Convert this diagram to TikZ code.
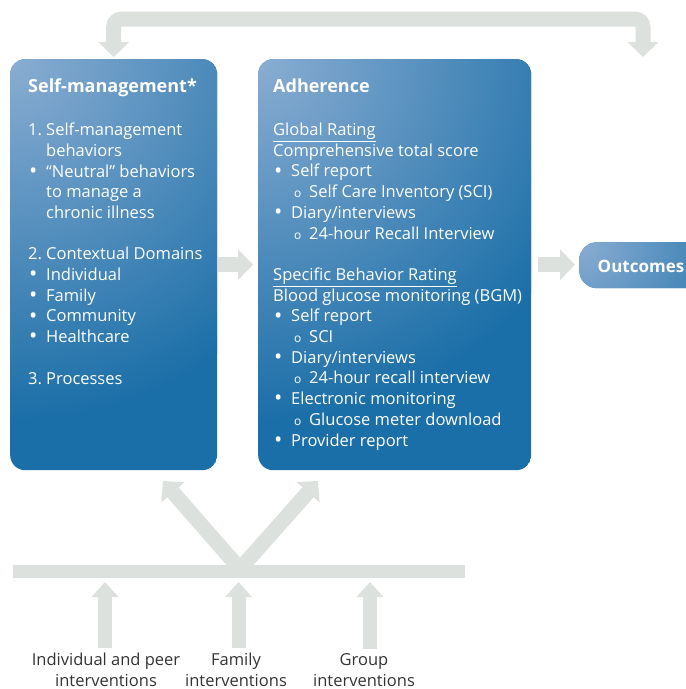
\documentclass[tikz,border=0pt]{standalone}
\usepackage{fontspec}
\setmainfont{Open Sans}
\usetikzlibrary{arrows.meta, positioning}
\definecolor{boxdark}{HTML}{1B6FA8}
\definecolor{boxlight}{HTML}{8AADD2}
\definecolor{flowgray}{HTML}{DCE1DE}
\definecolor{labelgray}{HTML}{333333}
\newcommand{\bul}{\makebox[18pt][l]{\hspace{1pt}\raisebox{-1.2pt}{\fontsize{22}{0}\selectfont\textbullet}}}
\newcommand{\numitem}[1]{\makebox[18pt][l]{#1}}
\newcommand{\subbul}{\hspace*{18pt}\makebox[18pt][l]{\hspace{3pt}{\fontsize{12}{10}\selectfont o}}}
\newcommand{\boxtitle}[1]{{\fontsize{18}{20}\selectfont\bfseries #1}}

\begin{document}
\begin{tikzpicture}[x=1pt, y=-1pt,
  blockbox/.style={rounded corners=15pt, inner sep=0pt, anchor=north west,
    path picture={
      \fill[boxdark] (path picture bounding box.south west) rectangle (path picture bounding box.north east);
      \shade[inner color=boxlight, outer color=boxdark] (path picture bounding box.north west) circle (#1);
    }},
  blockbox/.default=360pt,
  boxtext/.style={text=white, align=left, inner sep=0pt, anchor=north west,
    font=\fontsize{16.5}{20.7}\selectfont},
  flow/.style={draw=flowgray, line width=15pt, -{Triangle[width=30pt, length=15pt]}},
  flowup/.style={draw=flowgray, line width=14pt, -{Triangle[width=26pt, length=15pt]}},
  bar/.style={draw=flowgray, line width=13pt},
  intervention/.style={text=labelgray, align=center, inner sep=0pt,
    font=\fontsize{16.5}{20.5}\selectfont}
]
\useasboundingbox (0,0) rectangle (686,689);

% boxes
\node[blockbox, minimum width=207pt, minimum height=411pt] (selfm) at (10,59) {};
\node[blockbox, minimum width=273pt, minimum height=411pt] (adh) at (258,59) {};
\node[blockbox=190pt, rounded corners=18pt, minimum width=125pt, minimum height=46pt] (outc) at (579,242) {};
\node[text=white, font=\fontsize{17}{20}\selectfont\bfseries] (outctxt) at (641,266) {Outcomes};

\node[boxtext] (selfmtxt) at ([xshift=18pt, yshift=-20pt]selfm.north west) {%
\boxtitle{Self-management*}\\[22pt]
\numitem{1.}Self-management\\
\hspace*{18pt}behaviors\\
\bul “Neutral” behaviors\\
\hspace*{18pt}to manage a\\
\hspace*{18pt}chronic illness\\[20.7pt]
\numitem{2.}Contextual Domains\\
\bul Individual\\
\bul Family\\
\bul Community\\
\bul Healthcare\\[20.7pt]
\numitem{3.}Processes};

\node[boxtext] (adhtxt) at ([xshift=15pt, yshift=-20pt]adh.north west) {%
\boxtitle{Adherence}\\[22pt]
\underline{Global Rating}\\
Comprehensive total score\\
\bul Self report\\
\subbul Self Care Inventory (SCI)\\
\bul Diary/interviews\\
\subbul 24-hour Recall Interview\\[20.7pt]
\underline{Specific Behavior Rating}\\
Blood glucose monitoring (BGM)\\
\bul Self report\\
\subbul SCI\\
\bul Diary/interviews\\
\subbul 24-hour recall interview\\
\bul Electronic monitoring\\
\subbul Glucose meter download\\
\bul Provider report};

% arrows between boxes
\draw[flow, shorten <=1pt, shorten >=5pt] (selfm) -- (adh);
\draw[flow, shorten <=7pt, shorten >=4pt] (adh.east) -- (outc.west |- adh.east);

% feedback bracket on top
\coordinate (fbL) at ([yshift=2pt]selfm.north);
\coordinate (fbR) at (643,57);
\coordinate (fbtop) at (378,19);
\draw[flow, {Triangle[width=30pt, length=15pt]}-{Triangle[width=30pt, length=15pt]}, rounded corners=8pt]
  (fbL) |- (fbtop) -| (fbR);

% interventions
\node[intervention] (indiv) at (106,670) {Individual and peer\\interventions};
\node[intervention] (family) at (236,670) {Family\\interventions};
\node[intervention] (group) at (364,670) {Group\\interventions};

\coordinate (barL) at (13,571);
\coordinate (barR) at (465,571);
\coordinate (vtx) at (240,569);
\coordinate (tipL) at (163,481);
\coordinate (tipR) at (318,481);

\draw[flow] (vtx) -- (tipL);
\draw[flow] (vtx) -- (tipR);
\draw[bar] (barL) -- (barR);

\draw[flowup] (indiv.north -| 105,0) ++(0,-5) -- (105,582);
\draw[flowup] (family.north -| 238.5,0) ++(0,-5) -- (238.5,582);
\draw[flowup] (group.north -| 370,0) ++(0,-5) -- (370,582);
\end{tikzpicture}
\end{document}
